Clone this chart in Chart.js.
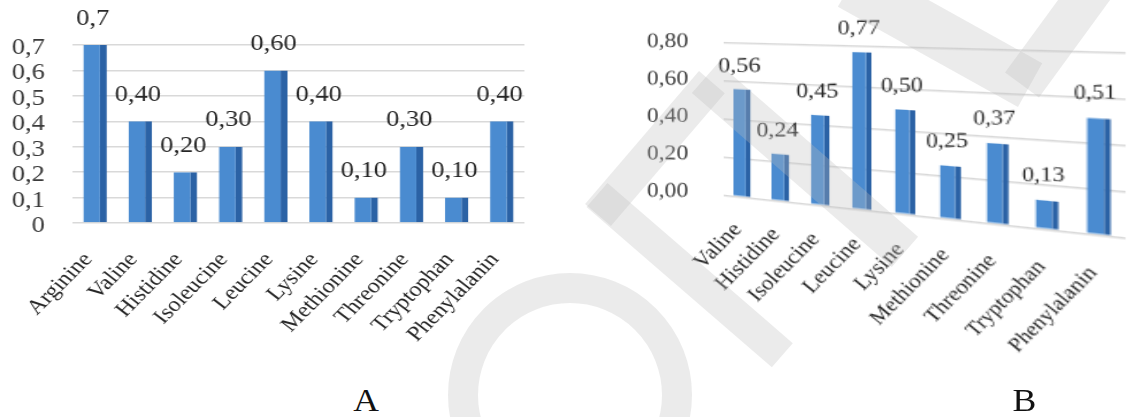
<!DOCTYPE html>
<html>
<head>
<meta charset="utf-8">
<script src="https://cdn.jsdelivr.net/npm/chart.js@4/dist/chart.umd.min.js"></script>
<style>
  html, body { margin: 0; padding: 0; background: #fff; }
  body { width: 1134px; height: 417px; position: relative; overflow: hidden; font-family: 'Liberation Serif', serif; }
  #wrapA { position: absolute; left: 0; top: 0; width: 500px; height: 370px; transform: scaleX(1.15); transform-origin: 0 0; }
  #wrapB { position: absolute; left: 567px; top: 0; width: 400px; height: 330px; transform-origin: 0 0;
    transform: matrix3d(1.15, 0.00349, 0, -0.000666, 0, 1, 0, 0, 0, 0, 1, 0, 0, 0, 0, 1); }
  .letter { position: absolute; top: 383px; font-size: 31px; color: #111; transform: scaleX(1.15); transform-origin: center; }
  #mark { position: absolute; left: 0; top: 0; width: 1134px; height: 417px; pointer-events: none; }
  #mark div { position: absolute; background: rgba(190, 190, 190, 0.3); transform-origin: 0 50%; }
  #mark .ring { background: none; border: 30px solid rgba(190, 190, 190, 0.3); border-radius: 50%; box-sizing: border-box; }
</style>
</head>
<body>
<div id="wrapA"><canvas id="chartA"></canvas></div>
<div id="wrapB"><canvas id="chartB"></canvas></div>
<div class="letter" style="left:355px">A</div>
<div class="letter" style="left:1014px">B</div>
<div id="mark"></div>
<script>
// Amino acid content - panel A and panel B
const categoriesA = ['Arginine', 'Valine', 'Histidine', 'Isoleucine', 'Leucine', 'Lysine', 'Methionine', 'Threonine', 'Tryptophan', 'Phenylalanin'];
const valuesA = [0.7, 0.40, 0.20, 0.30, 0.60, 0.40, 0.10, 0.30, 0.10, 0.40];
const valueTextA = ['0,7', '0,40', '0,20', '0,30', '0,60', '0,40', '0,10', '0,30', '0,10', '0,40'];
const ticksA = [0, 0.1, 0.2, 0.3, 0.4, 0.5, 0.6, 0.7];
const tickTextA = ['0', '0,1', '0,2', '0,3', '0,4', '0,5', '0,6', '0,7'];

const categoriesB = ['Valine', 'Histidine', 'Isoleucine', 'Leucine', 'Lysine', 'Methionine', 'Threonine', 'Tryptophan', 'Phenylalanin'];
const valuesB = [0.56, 0.24, 0.45, 0.77, 0.50, 0.25, 0.37, 0.13, 0.51];
const valueTextB = ['0,56', '0,24', '0,45', '0,77', '0,50', '0,25', '0,37', '0,13', '0,51'];
const ticksB = [0, 0.2, 0.4, 0.6, 0.8];
const tickTextB = ['0,00', '0,20', '0,40', '0,60', '0,80'];

const barFront = '#4a8bd0';
const barSide = '#2b62a5';
const gridColor = '#d9d9d9';
const textColor = '#262626';
const serif = "'Liberation Serif', 'DejaVu Serif', serif";

// all texts are drawn here; g and k undo the tilt of panel B so the letters stay upright
const textLayer = {
  id: 'textLayer',
  afterDatasetsDraw(chart, args, o) {
    const ctx = chart.ctx;
    const area = chart.chartArea;
    const xs = chart.scales.x;
    const ys = chart.scales.y;
    const put = (text, x, y, size, align, base, angle, color) => {
      const w = 1 - o.g * x;
      ctx.save();
      ctx.translate(x, y);
      ctx.transform(w * w, -(o.k + o.g * y) * w, 0, w, 0, 0);
      ctx.rotate(angle);
      ctx.font = size + 'px ' + serif;
      ctx.fillStyle = color;
      ctx.textAlign = align;
      ctx.textBaseline = base;
      ctx.fillText(text, 0, 0);
      ctx.restore();
    };
    const tilt = -Math.atan(1.15);
    o.ticks.forEach((v, i) => put(o.tickText[i], area.left - o.yPad, ys.getPixelForValue(v) + o.yDrop, o.ySize, 'right', 'middle', 0, '#3a3a3a'));
    chart.data.labels.forEach((lab, i) => put(lab, xs.getPixelForTick(i) + o.xShift, area.bottom + o.xPad, o.xSize, 'right', 'middle', tilt, textColor));
    chart.getDatasetMeta(0).data.forEach((bar, i) => put(o.texts[i], bar.x - 2, bar.y - o.valueOffset, o.valueSize, 'center', 'bottom', 0, textColor));
  }
};

function makeChart(id, cats, vals, tickList, cfg) {
  return new Chart(document.getElementById(id), {
    type: 'bar',
    data: {
      labels: cats,
      datasets: [{
        data: vals,
        backgroundColor: barFront,
        borderColor: barSide,
        borderWidth: { top: 0, right: cfg.side, bottom: 0, left: 0 },
        borderSkipped: false,
        barPercentage: cfg.barPct,
        categoryPercentage: 1
      }]
    },
    plugins: [textLayer],
    options: {
      responsive: true,
      maintainAspectRatio: false,
      animation: false,
      layout: { padding: { top: cfg.top, right: cfg.right, left: 0, bottom: 0 } },
      plugins: {
        legend: { display: false },
        tooltip: { enabled: false },
        textLayer: cfg.text
      },
      scales: {
        x: {
          grid: { display: false },
          border: { display: false },
          ticks: { autoSkip: false, color: 'rgba(0,0,0,0)' },
          afterFit: s => { s.height = cfg.xHeight; }
        },
        y: {
          min: 0,
          max: tickList[tickList.length - 1],
          grid: { color: gridColor, lineWidth: 1.5, drawTicks: false },
          border: { display: false },
          afterBuildTicks: s => { s.ticks = tickList.map(v => ({ value: v })); },
          ticks: { autoSkip: false, color: 'rgba(0,0,0,0)' },
          afterFit: s => { s.width = cfg.yWidth; }
        }
      }
    }
  });
}

makeChart('chartA', categoriesA, valuesA, ticksA, {
  side: 6, barPct: 0.52, top: 45, right: 44, xHeight: 147, yWidth: 63,
  text: { g: 0, k: 0, ticks: ticksA, tickText: tickTextA, texts: valueTextA,
    yPad: 24, yDrop: 3, ySize: 23, xPad: 33, xShift: -6, xSize: 21, valueSize: 23, valueOffset: 15 }
});

makeChart('chartB', categoriesB, valuesB, ticksB, {
  side: 3.5, barPct: 0.46, top: 38.5, right: 33, xHeight: 151.6, yWidth: 124.7,
  text: { g: 0.000666, k: 0.00349, ticks: ticksB, tickText: tickTextB, texts: valueTextB,
    yPad: 26, yDrop: 0, ySize: 21, xPad: 27, xShift: -3, xSize: 21, valueSize: 21, valueOffset: 11 }
});

// faint watermark lying over the figure
const mark = document.getElementById('mark');
const bands = [
  [598, 215, 712, 82, 34],
  [705, 78, 905, 252, 40],
  [597, 195, 782, 355, 32],
  [850, -15, 1030, 85, 50],
  [1022, 85, 1095, -15, 42]
];
bands.forEach(([x1, y1, x2, y2, t]) => {
  const d = document.createElement('div');
  d.style.left = x1 + 'px';
  d.style.top = (y1 - t / 2) + 'px';
  d.style.width = Math.hypot(x2 - x1, y2 - y1) + 'px';
  d.style.height = t + 'px';
  d.style.transform = 'rotate(' + Math.atan2(y2 - y1, x2 - x1) + 'rad)';
  mark.appendChild(d);
});
const ring = document.createElement('div');
ring.className = 'ring';
ring.style.left = '448px';
ring.style.top = '273px';
ring.style.width = '244px';
ring.style.height = '244px';
mark.appendChild(ring);
</script>
</body>
</html>
